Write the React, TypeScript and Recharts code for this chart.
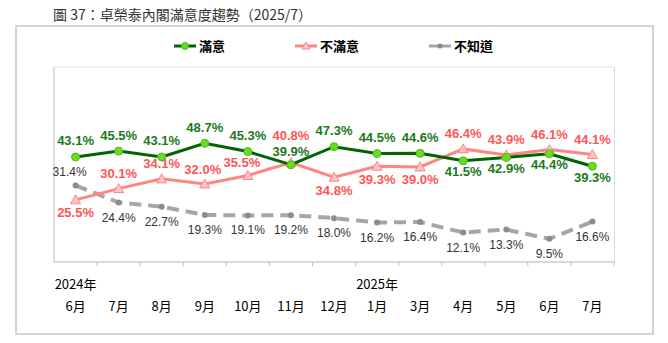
import { CartesianGrid, LabelList, Legend, Line, LineChart, XAxis, YAxis } from "recharts";

const MONTHS = ["6月", "7月", "8月", "9月", "10月", "11月", "12月", "1月", "3月", "4月", "5月", "6月", "7月"];
const YEARS = ["2024年", "", "", "", "", "", "", "2025年", "", "", "", "", ""];
const SATISFIED = [43.1, 45.5, 43.1, 48.7, 45.3, 39.9, 47.3, 44.5, 44.6, 41.5, 42.9, 44.4, 39.3];
const DISSATISFIED = [25.5, 30.1, 34.1, 32.0, 35.5, 40.8, 34.8, 39.3, 39.0, 46.4, 43.9, 46.1, 44.1];
const UNKNOWN = [31.4, 24.4, 22.7, 19.3, 19.1, 19.2, 18.0, 16.2, 16.4, 12.1, 13.3, 9.5, 16.6];

const W = 668;
const H = 343;
const X_AXIS_H = 30;
const M = { top: 67, right: 54, bottom: 81 - X_AXIS_H, left: 53 };
const BAND = (W - M.left - M.right) / MONTHS.length;

const GREEN = "#006400";
const GREEN_TEXT = "#1a7a1a";
const PINK = "#ff8585";
const PINK_TEXT = "#ff5555";
const GRAY = "#a6a6a6";
const NUM_FONT = "'Liberation Sans', Arial, sans-serif";

const data = MONTHS.map((m, i) => ({
  month: m,
  year: YEARS[i],
  sat: SATISFIED[i],
  dis: DISSATISFIED[i],
  unk: UNKNOWN[i],
}));

// which labels sit under their point, plus small nudges
const SAT_BELOW = [9, 10, 11, 12];
const DIS_BELOW = [0, 6, 7, 8];
const UNK_BELOW = [1, 2, 3, 4, 5, 6, 7, 8, 9, 10, 11, 12];

function makeLabel(
  color: string,
  bold: boolean,
  size: number,
  below: number[],
  up: number,
  down: number,
  nudge: Record<number, { dx?: number; dy?: number }> = {}
) {
  return (props: any) => {
    const { x, y, value, index } = props;
    const n = nudge[index] || {};
    const off = n.dy ?? (below.includes(index) ? down : up);
    return (
      <text
        x={x + (n.dx || 0)}
        y={y + off}
        textAnchor="middle"
        dominantBaseline="central"
        fill={color}
        style={{ fontFamily: NUM_FONT, fontSize: size, fontWeight: bold ? 700 : 400 }}
      >
        {Number(value).toFixed(1)}%
      </text>
    );
  };
}

const Triangle = (props: any) => {
  const { cx, cy } = props;
  if (cx == null || cy == null) return null;
  return (
    <path
      d={`M${cx},${cy - 5} L${cx + 5},${cy + 4} L${cx - 5},${cy + 4} Z`}
      fill="#ffc4c4"
      stroke={PINK}
      strokeWidth={1}
    />
  );
};

const AXIS_Y = H - 81;

const MonthTick = (props: any) => {
  const { x, payload, index } = props;
  return (
    <g>
      <line x1={x + BAND / 2} x2={x + BAND / 2} y1={AXIS_Y} y2={AXIS_Y + 4} stroke="#bfbfbf" />
      {YEARS[index] ? (
        <text x={x} y={AXIS_Y + 21} textAnchor="middle" dominantBaseline="central" fontSize={13} fill="#000">
          {YEARS[index]}
        </text>
      ) : null}
      <text x={x} y={AXIS_Y + 43} textAnchor="middle" dominantBaseline="central" fontSize={13} fill="#000">
        {payload.value}
      </text>
    </g>
  );
};

const LEGEND = [
  { name: "滿意", color: GREEN, kind: "circle" },
  { name: "不滿意", color: PINK, kind: "tri" },
  { name: "不知道", color: GRAY, kind: "dot" },
];

const LegendContent = () => (
  <div style={{ display: "flex", justifyContent: "center", gap: 70 }}>
    {LEGEND.map((it) => (
      <div key={it.name} style={{ display: "flex", alignItems: "center", gap: 3 }}>
        <svg width={22} height={12}>
          <line x1={0} x2={22} y1={6} y2={6} stroke={it.color} strokeWidth={3} />
          {it.kind === "circle" && <circle cx={11} cy={6} r={3.5} fill="#66dd22" stroke="#4cbb17" />}
          {it.kind === "tri" && <path d="M11,2 L15,9 L7,9 Z" fill="#ffc4c4" stroke={PINK} />}
          {it.kind === "dot" && <circle cx={11} cy={6} r={2.5} fill="#8c8c8c" />}
        </svg>
        <span style={{ fontSize: 13, fontWeight: 700, color: "#000" }}>{it.name}</span>
      </div>
    ))}
  </div>
);

export default function App() {
  return (
    <div
      style={{
        position: "absolute",
        left: 0,
        top: 0,
        width: W,
        height: H,
        background: "#fff",
        fontFamily: "'Noto Sans CJK TC', 'Noto Sans', sans-serif",
      }}
    >
      <div
        style={{
          position: "absolute",
          left: 53,
          top: 4,
          fontSize: 14,
          color: "#333",
          fontFamily: "'Noto Sans CJK TC', serif",
          whiteSpace: "nowrap",
        }}
      >
        圖 37：卓榮泰內閣滿意度趨勢（2025/7）
      </div>
      <div
        style={{
          position: "absolute",
          left: 15,
          top: 25,
          width: 635,
          height: 306,
          border: "2px solid #d4d4d4",
        }}
      />
      {/* right edge of the plot frame */}
      <div
        style={{
          position: "absolute",
          left: W - M.right,
          top: M.top,
          width: 1,
          height: AXIS_Y - M.top,
          background: "#d9d9d9",
        }}
      />
      <div style={{ position: "absolute", left: 0, top: 0 }}>
        <LineChart width={W} height={H} data={data} margin={M}>
          <CartesianGrid vertical={false} stroke="#e6e6e6" />
          <XAxis
            dataKey="month"
            interval={0}
            height={X_AXIS_H}
            padding={{ left: BAND / 2, right: BAND / 2 }}
            axisLine={{ stroke: "#bfbfbf" }}
            tickLine={false}
            tick={<MonthTick />}
          />
          <YAxis
            domain={[0, 80]}
            ticks={[0, 20, 40, 60, 80]}
            width={1}
            tick={false}
            tickLine={false}
            axisLine={{ stroke: "#bfbfbf" }}
          />
          <Legend verticalAlign="middle" wrapperStyle={{ top: 36 }} content={<LegendContent />} />
          <Line
            dataKey="unk"
            stroke={GRAY}
            strokeWidth={4}
            strokeDasharray="12 7"
            dot={{ r: 3, fill: "#8c8c8c", stroke: "none" }}
            isAnimationActive={false}
          >
            <LabelList dataKey="unk" content={makeLabel("#333", false, 12, UNK_BELOW, -13, 15, { 0: { dx: -6 } })} />
          </Line>
          <Line
            dataKey="dis"
            stroke={PINK}
            strokeWidth={3}
            dot={<Triangle />}
            isAnimationActive={false}
          >
            <LabelList
              dataKey="dis"
              content={makeLabel(PINK_TEXT, true, 13, DIS_BELOW, -15, 13, {
                3: { dx: -2 },
                4: { dx: -6, dy: -13 },
                5: { dy: -27 },
              })}
            />
          </Line>
          <Line
            dataKey="sat"
            stroke={GREEN}
            strokeWidth={3}
            dot={{ r: 4, fill: "#66dd22", stroke: "#4cbb17", strokeWidth: 1 }}
            isAnimationActive={false}
          >
            <LabelList
              dataKey="sat"
              content={makeLabel(GREEN_TEXT, true, 13, SAT_BELOW, -16, 11, { 5: { dy: -13 } })}
            />
          </Line>
        </LineChart>
      </div>
    </div>
  );
}
